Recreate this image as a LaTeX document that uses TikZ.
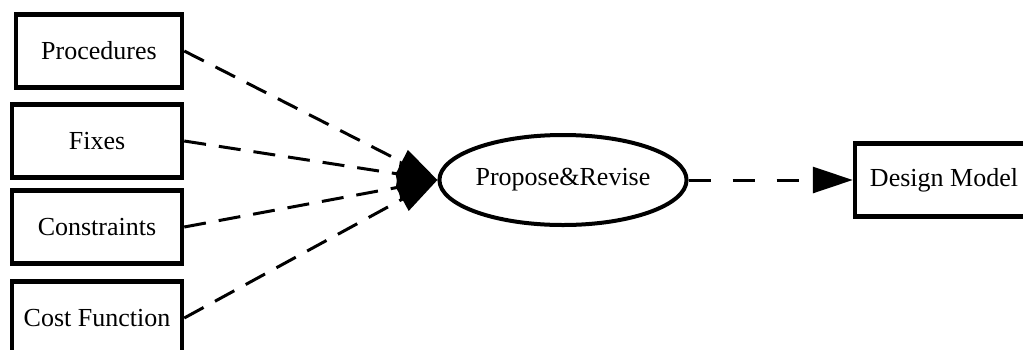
\documentclass[tikz,border=0pt]{standalone}
\usepackage{fontspec}
\setmainfont{Liberation Serif}
\usetikzlibrary{arrows.meta,shapes.geometric}
\begin{document}
\begin{tikzpicture}[x=1pt,y=-1pt,
  box/.style={draw,line width=4.5pt,minimum height=73pt,inner sep=0pt,font=\fontsize{26}{30}\selectfont},
  flow/.style={dashed,line width=3pt,dash pattern=on 22pt off 13pt,-{Triangle[length=40pt,width=26pt]}}]
\useasboundingbox (0,0) rectangle (1023,349);
\clip (0,0) rectangle (1023,349);
\node[box,minimum width=166pt] (proc) at (99,51) {Procedures};
\node[box,minimum width=170pt] (fix) at (97,141) {Fixes};
\node[box,minimum width=170pt] (con) at (97,227) {Constraints};
\node[box,minimum width=170pt] (cost) at (97,318) {Cost Function};
\node[draw,ellipse,line width=4pt,minimum width=228pt,minimum height=90pt,inner sep=0pt,font=\fontsize{26}{30}\selectfont] (pr) at (563,180) {Propose\&Revise};
\node[box,minimum width=178pt] (dm) at (944,180) {Design Model};
\draw[flow] (proc.east) -- (pr.west);
\draw[flow] (fix.east) -- (pr.west);
\draw[flow] (con.east) -- (pr.west);
\draw[flow] (cost.east) -- (pr.west);
\draw[flow,dash pattern=on 22pt off 22pt] (pr.east) -- (dm.west);
\end{tikzpicture}
\end{document}
